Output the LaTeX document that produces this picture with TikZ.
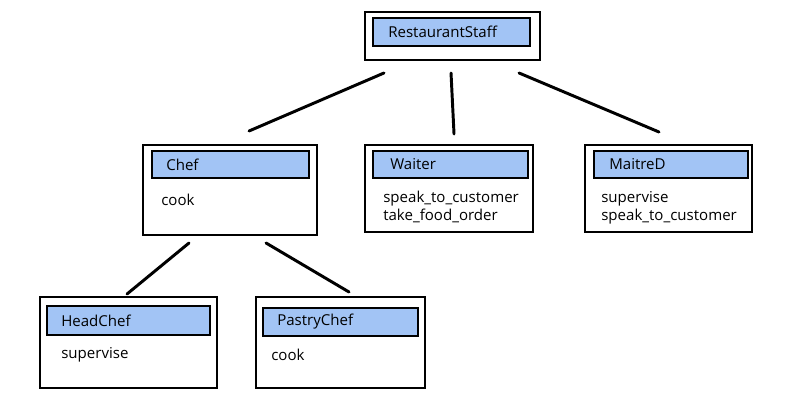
\documentclass[tikz,border=0pt]{standalone}
\usepackage{fontspec}
\setmainfont{Open Sans}
\usepackage{xcolor}
\usetikzlibrary{calc, shadows}

\definecolor{headblue}{RGB}{162,196,245}

\begin{document}
\begin{tikzpicture}[
    x=0.025cm, y=-0.025cm,
    classbox/.style={rectangle, draw=black, line width=1.4pt, fill=white, inner sep=0pt,
        drop shadow={shadow xshift=0.6pt, shadow yshift=-0.9pt, opacity=0.35, fill=gray}},
    headbox/.style={rectangle, draw=black, line width=1.4pt, fill=headblue, inner sep=0pt},
    classname/.style={anchor=west, inner sep=0pt, font=\fontsize{10.7}{12}\selectfont},
    ops/.style={anchor=north west, align=left, inner sep=0pt, font=\fontsize{10.7}{12.8}\selectfont},
    link/.style={line width=2.1pt, line cap=round}
]
\useasboundingbox (0,0) rectangle (800,400);

% class boxes
\node[classbox, minimum width=175*0.025cm, minimum height=48*0.025cm] (staff) at (452.5,36) {};
\node[classbox, minimum width=174*0.025cm, minimum height=90*0.025cm] (chef) at (230,190) {};
\node[classbox, minimum width=168*0.025cm, minimum height=87*0.025cm] (waiter) at (449,188.5) {};
\node[classbox, minimum width=167*0.025cm, minimum height=87*0.025cm] (maitre) at (668.5,188.5) {};
\node[classbox, minimum width=177*0.025cm, minimum height=91*0.025cm] (headchef) at (128.5,342.5) {};
\node[classbox, minimum width=169*0.025cm, minimum height=91*0.025cm] (pastry) at (340.5,342.5) {};

% headers
\node[headbox, minimum width=157*0.025cm, minimum height=28*0.025cm] (staffhd) at (451.5,32) {};
\node[headbox, minimum width=157*0.025cm, minimum height=27*0.025cm] (chefhd) at (230.5,164.5) {};
\node[headbox, minimum width=155*0.025cm, minimum height=27*0.025cm] (waiterhd) at (450.5,164.5) {};
\node[headbox, minimum width=154*0.025cm, minimum height=27*0.025cm] (maitrehd) at (671,164.5) {};
\node[headbox, minimum width=163*0.025cm, minimum height=29*0.025cm] (headchefhd) at (128.5,320.5) {};
\node[headbox, minimum width=155*0.025cm, minimum height=28*0.025cm] (pastryhd) at (340.5,322) {};

\node[classname] (stafflb) at ($(staffhd.west)+(16,0)$) {RestaurantStaff};
\node[classname] (cheflb) at ($(chefhd.west)+(15,0)$) {Chef};
\node[classname] (waiterlb) at ($(waiterhd.west)+(18,0)$) {Waiter};
\node[classname] (maitrelb) at ($(maitrehd.west)+(16,0)$) {MaitreD};
\node[classname] (headcheflb) at ($(headchefhd.west)+(15,0)$) {HeadChef};
\node[classname] (pastrylb) at ($(pastryhd.west)+(15,0)$) {PastryChef};

% operations
\node[ops] (chefops) at ($(chef.west |- chefhd.south)+(19,15)$) {cook};
\node[ops] (waiterops) at ($(waiter.west |- waiterhd.south)+(19,12)$) {speak\_to\_customer\\take\_food\_order};
\node[ops] (maitreops) at ($(maitre.west |- maitrehd.south)+(17,12)$) {supervise\\speak\_to\_customer};
\node[ops] (headchefops) at ($(headchef.west |- headchefhd.south)+(22,11)$) {supervise};
\node[ops] (pastryops) at ($(pastry.west |- pastryhd.south)+(16,12)$) {cook};

% links
\draw[link] ($(staff.south west)+(20,12)$) -- ($(chef.north west)+(107,-13)$);
\draw[link] ($(staff.south west)+(87,12)$) -- ($(waiter.north west)+(90,-10)$);
\draw[link] ($(staff.south west)+(155,12)$) -- ($(maitre.north west)+(75,-12)$);
\draw[link] ($(chef.south west)+(47,7)$) -- ($(headchef.north west)+(88,-2)$);
\draw[link] ($(chef.south west)+(124,7)$) -- ($(pastry.north west)+(94,-4)$);
\end{tikzpicture}
\end{document}
